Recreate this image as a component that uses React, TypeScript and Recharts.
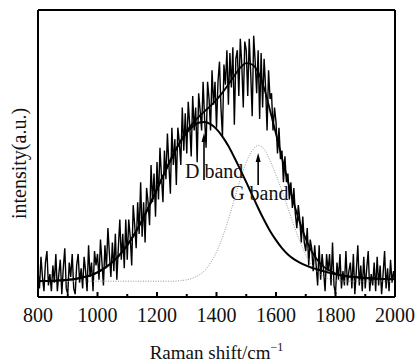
import { Line, LineChart, ReferenceLine, XAxis, YAxis } from 'recharts';

// Raman spectrum. x grid is uniform, so only the start/step are stored.
const shiftStart = 800;
const rawStep = 5;
const fitStep = 20;

// measured (noisy) spectrum, 800..2000 every 5 cm-1
const rawIntensity = [
  9, 3, 14, 7, 2, 12, 16, 4, 8, 2,
  11, 5, 15, 2, 8, 13, 1, 10, 17, 3,
  1, 12, 7, 15, 3, 1, 11, 15, 5, 10,
  3, 14, 9, 2, 18, 7, 12, 2, 16, 11,
  15, 6, 20, 12, 4, 18, 10, 24, 15, 7,
  19, 9, 22, 6, 17, 27, 13, 22, 10, 27,
  13, 27, 21, 11, 32, 25, 17, 33, 22, 40,
  21, 33, 19, 38, 33, 25, 46, 33, 43, 28,
  47, 34, 52, 42, 33, 51, 41, 57, 46, 36,
  59, 46, 55, 39, 59, 54, 46, 66, 51, 64,
  50, 68, 60, 49, 70, 58, 66, 47, 71, 65,
  58, 75, 62, 52, 75, 69, 58, 79, 67, 75,
  59, 75, 82, 66, 56, 81, 74, 86, 67, 85,
  73, 87, 60, 83, 86, 70, 90, 81, 66, 89,
  86, 70, 90, 78, 63, 91, 82, 71, 86, 62,
  85, 66, 83, 73, 58, 79, 69, 71, 58, 66,
  61, 50, 59, 48, 51, 40, 49, 40, 43, 34,
  40, 31, 38, 29, 24, 32, 27, 19, 28, 19,
  16, 24, 11, 20, 17, 9, 18, 11, 4, 18,
  6, 15, 9, 2, 15, 9, 15, 4, 19, 4,
  1, 12, 6, 15, 3, 9, 4, 16, 4, 9,
  12, 3, 15, 1, 9, 18, 4, 11, 2, 14,
  3, 10, 16, 2, 8, 4, 12, 2, 14, 4,
  11, 1, 8, 16, 3, 10, 2, 13, 5, 9,
  5,
];

// fitted components, 800..2000 every 20 cm-1
const dBand = [
  5.5, 5.6, 5.6, 5.7, 5.8, 6.0, 6.2, 6.6, 7.1, 7.7,
  8.6, 9.8, 11.3, 13.1, 15.4, 18.1, 21.2, 24.8, 28.8, 33.1,
  37.6, 42.1, 46.5, 50.7, 54.3, 57.3, 59.4, 60.7, 61.0, 60.2,
  58.5, 55.9, 52.6, 48.6, 44.4, 40.0, 35.5, 31.0, 26.8, 23.0,
  19.8, 17.0, 14.8, 13.2, 12.0, 11.0, 10.2, 9.6, 9.0, 8.4,
  7.9, 7.5, 7.2, 7.0, 6.8, 6.6, 6.5, 6.4, 6.3, 6.3,
  6.2,
];

const gBand = [
  5.5, 5.5, 5.5, 5.5, 5.5, 5.5, 5.5, 5.5, 5.5, 5.5,
  5.5, 5.5, 5.5, 5.5, 5.5, 5.5, 5.5, 5.5, 5.5, 5.5,
  5.5, 5.5, 5.5, 5.5, 5.7, 6.0, 6.6, 7.6, 9.2, 11.9,
  15.7, 20.8, 27.0, 34.0, 41.0, 47.0, 51.0, 52.8, 51.5, 47.5,
  42.5, 37.0, 31.0, 25.0, 19.5, 14.8, 11.2, 8.7, 7.1, 6.3,
  5.8, 5.6, 5.5, 5.5, 5.5, 5.5, 5.5, 5.5, 5.5, 5.5,
  5.5,
];

const fitSum = [
  5.5, 5.6, 5.6, 5.7, 5.8, 6.0, 6.2, 6.6, 7.1, 7.7,
  8.6, 9.8, 11.3, 13.1, 15.4, 18.1, 21.2, 24.8, 28.8, 33.1,
  37.6, 42.1, 46.5, 50.7, 54.5, 57.8, 60.5, 62.8, 64.7, 66.6,
  68.7, 71.2, 74.1, 77.1, 79.9, 81.5, 81.0, 78.3, 72.8, 65.0,
  56.8, 48.5, 40.3, 32.7, 26.0, 20.3, 15.9, 12.8, 10.6, 9.2,
  8.2, 7.6, 7.2, 7.0, 6.8, 6.6, 6.5, 6.4, 6.3, 6.3,
  6.2,
];

const xTicks = [800, 900, 1000, 1100, 1200, 1300, 1400, 1500, 1600, 1700, 1800, 1900, 2000];

const annotations = [
  { label: 'D band', shift: 1358, from: 40.8, to: 57.1, dx: -19, dy: -2 },
  { label: 'G band', shift: 1540, from: 39, to: 50.2, dx: -28, dy: 15 },
];

const toPoints = (values: number[], step: number) =>
  values.map((y, i) => ({ x: shiftStart + i * step, y }));

const raw = toPoints(rawIntensity, rawStep);
const dFit = toPoints(dBand, fitStep);
const gFit = toPoints(gBand, fitStep);
const sumFit = toPoints(fitSum, fitStep);

const font = "'Liberation Serif', 'DejaVu Serif', serif";
const ink = '#000';

function ShiftTick({ x, y, payload }: any) {
  const major = payload.value % 200 === 0;
  return (
    <g>
      <line x1={x} x2={x} y1={y} y2={y - (major ? 5 : 3)} stroke={ink} strokeWidth={2} />
      {major ? (
        <text x={x} y={y + 25} textAnchor="middle" fontFamily={font} fontSize={20} fill="#111">
          {payload.value}
        </text>
      ) : null}
    </g>
  );
}

function arrowShape(label: string, dx: number, dy: number) {
  return ({ x1, y1, x2, y2 }: any) => (
    <g>
      <line x1={x1} y1={y1} x2={x2} y2={y2 + 6} stroke={ink} strokeWidth={1.6} />
      <polygon points={`${x2},${y2} ${x2 - 2.5},${y2 + 9} ${x2 + 2.5},${y2 + 9}`} fill={ink} />
      <text x={x1 + dx} y={y1 + dy} fontFamily={font} fontSize={20} fill="#111">
        {label}
      </text>
    </g>
  );
}

export default function App() {
  return (
    <div style={{ position: 'absolute', left: 0, top: 0, width: 417, height: 362, background: '#fff' }}>
      <LineChart width={417} height={362} margin={{ top: 9, right: 21, left: 37, bottom: 0 }}>
        <XAxis
          dataKey="x"
          type="number"
          domain={[800, 2000]}
          ticks={xTicks}
          allowDataOverflow
          height={65}
          stroke={ink}
          strokeWidth={2}
          tickLine={false}
          tickSize={0}
          tickMargin={0}
          tick={<ShiftTick />}
          interval={0}
          label={{
            content: ({ viewBox }: any) => (
              <text
                x={viewBox.x + viewBox.width / 2}
                y={viewBox.y + 62}
                textAnchor="middle"
                fontFamily={font}
                fontSize={19}
                fill="#111"
              >
                Raman shift/cm
                <tspan dy={-8} fontSize={12}>−1</tspan>
              </text>
            ),
          }}
        />
        <XAxis
          xAxisId="top"
          orientation="top"
          dataKey="x"
          type="number"
          domain={[800, 2000]}
          allowDataOverflow
          height={1}
          stroke={ink}
          strokeWidth={2}
          tick={false}
          tickLine={false}
        />
        <YAxis
          type="number"
          domain={[0, 100]}
          allowDataOverflow
          width={1}
          stroke={ink}
          strokeWidth={2}
          tick={false}
          tickLine={false}
          label={{
            content: ({ viewBox }: any) => {
              const cx = viewBox.x - 18;
              const cy = viewBox.y + viewBox.height / 2 + 10;
              return (
                <text
                  x={cx}
                  y={cy}
                  transform={`rotate(-90 ${cx} ${cy})`}
                  textAnchor="middle"
                  dominantBaseline="central"
                  fontFamily={font}
                  fontSize={20}
                  fill="#111"
                >
                  intensity(a.u.)
                </text>
              );
            },
          }}
        />
        <YAxis
          yAxisId="right"
          orientation="right"
          type="number"
          domain={[0, 100]}
          width={1}
          stroke={ink}
          strokeWidth={2}
          tick={false}
          tickLine={false}
        />
        <Line data={raw} dataKey="y" stroke={ink} strokeWidth={1.4} dot={false} isAnimationActive={false} />
        <Line
          data={gFit}
          dataKey="y"
          type="monotone"
          stroke="#8a8a8a"
          strokeWidth={0.9}
          strokeDasharray="1 1.5"
          dot={false}
          isAnimationActive={false}
        />
        <Line data={dFit} dataKey="y" type="monotone" stroke={ink} strokeWidth={2} dot={false} isAnimationActive={false} />
        <Line data={sumFit} dataKey="y" type="monotone" stroke={ink} strokeWidth={1.8} dot={false} isAnimationActive={false} />
        {annotations.map((a) => (
          <ReferenceLine
            key={a.label}
            segment={[
              { x: a.shift, y: a.from },
              { x: a.shift, y: a.to },
            ]}
            shape={arrowShape(a.label, a.dx, a.dy)}
          />
        ))}
      </LineChart>
    </div>
  );
}
